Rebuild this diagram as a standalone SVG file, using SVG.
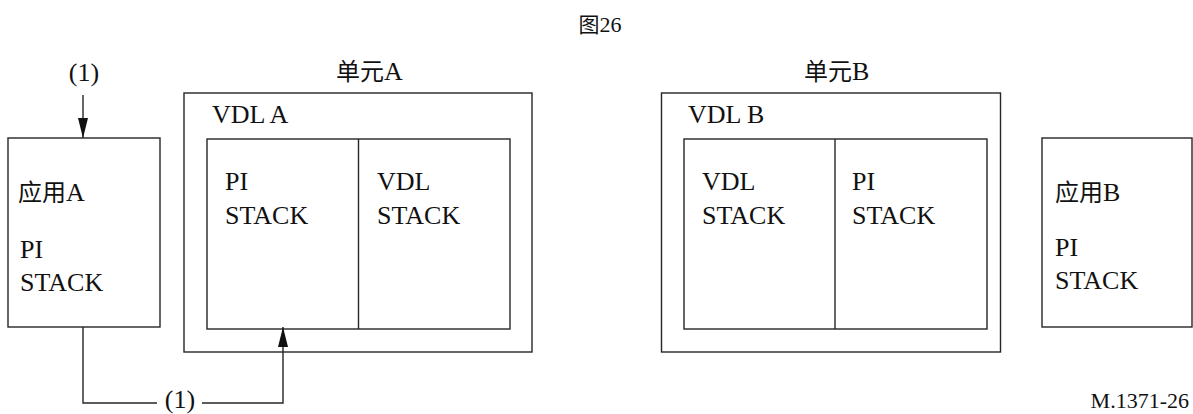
<svg xmlns="http://www.w3.org/2000/svg" width="1193" height="414" viewBox="0 0 1193 414">
  <style>
    .box { fill: none; stroke: #262626; stroke-width: 1.4; }
    .conn { fill: none; stroke: #262626; stroke-width: 1.4; }
    text { font-family: "Liberation Serif", "Times New Roman", "DejaVu Serif", serif; fill: #111; }
    .t { font-size: 26px; }
    .small { font-size: 22px; }
    .cjk { font-family: "Noto Sans CJK SC", "Noto Sans CJK JP", sans-serif; font-size: 24px; }
  </style>
  <defs>
    <marker id="arrow" markerUnits="userSpaceOnUse" markerWidth="20" markerHeight="10" viewBox="0 0 20 10" refX="20" refY="5" orient="auto">
      <path d="M0,0 L20,5 L0,10 z" fill="#111"/>
    </marker>
  </defs>
  <rect width="1193" height="414" fill="#fff"/>

  <text class="small" x="600" y="32" text-anchor="middle"><tspan class="cjk" style="font-size:21px">图</tspan>26</text>

  <g id="appA">
    <rect class="box" x="8" y="138" width="152" height="189"/>
    <text class="t" x="18" y="201"><tspan class="cjk">应用</tspan>A</text>
    <text class="t" x="20" y="258">PI</text>
    <text class="t" x="20" y="291">STACK</text>
  </g>

  <g id="unitA">
    <text class="t" x="336" y="80"><tspan class="cjk">单元</tspan>A</text>
    <rect class="box" x="184" y="93" width="348" height="259"/>
    <text class="t" x="212" y="123">VDL A</text>
    <rect class="box" x="207" y="139" width="303" height="190"/>
    <line class="box" x1="358.5" y1="139" x2="358.5" y2="329"/>
    <text class="t" x="225" y="190">PI</text>
    <text class="t" x="225" y="224">STACK</text>
    <text class="t" x="377" y="190">VDL</text>
    <text class="t" x="377" y="224">STACK</text>
  </g>

  <g id="unitB">
    <text class="t" x="804" y="80"><tspan class="cjk">单元</tspan>B</text>
    <rect class="box" x="661.5" y="93" width="339" height="259"/>
    <text class="t" x="688" y="123">VDL B</text>
    <rect class="box" x="684" y="139" width="303" height="190"/>
    <line class="box" x1="835" y1="139" x2="835" y2="329"/>
    <text class="t" x="702" y="190">VDL</text>
    <text class="t" x="702" y="224">STACK</text>
    <text class="t" x="852" y="190">PI</text>
    <text class="t" x="852" y="224">STACK</text>
  </g>

  <g id="appB">
    <rect class="box" x="1042" y="138" width="150" height="189"/>
    <text class="t" x="1055" y="201"><tspan class="cjk">应用</tspan>B</text>
    <text class="t" x="1055" y="256">PI</text>
    <text class="t" x="1055" y="289">STACK</text>
  </g>

  <g id="connectors">
    <text class="t" x="84" y="81" text-anchor="middle">(1)</text>
    <line class="conn" x1="83" y1="95" x2="83" y2="138" marker-end="url(#arrow)"/>
    <path class="conn" d="M83,327 V403 H157"/>
    <text class="t" x="180" y="408" text-anchor="middle">(1)</text>
    <path class="conn" d="M202,403 H283 V327" marker-end="url(#arrow)"/>
  </g>

  <text class="small" x="1189" y="408" text-anchor="end">M.1371-26</text>
</svg>
